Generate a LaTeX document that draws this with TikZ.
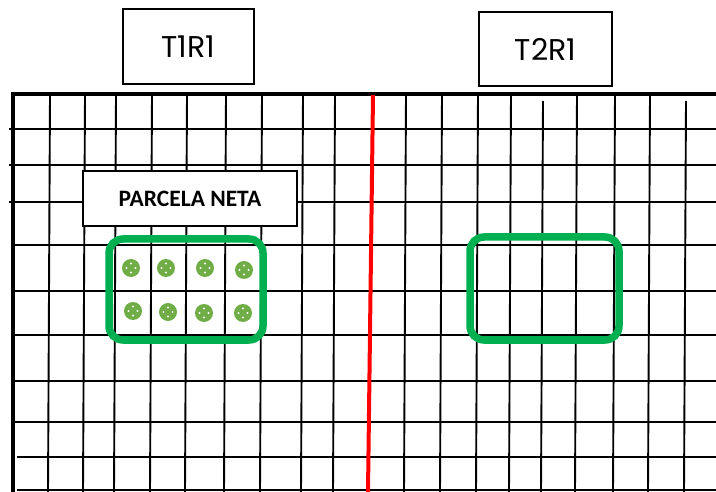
\documentclass[tikz,border=0pt]{standalone}
\usepackage{fontspec}
\newfontfamily\labfont{Poppins}
\newfontfamily\boldfont{Carlito}
\definecolor{plotgreen}{HTML}{00B050}
\definecolor{plantgreen}{HTML}{70AD47}
\definecolor{divred}{HTML}{FF0000}
\begin{document}
\begin{tikzpicture}[x=1pt,y=-1pt,
  gridline/.style={line width=1.9pt,black},
  border/.style={line width=4pt,black},
  treatbox/.style={draw,line width=1.3pt,fill=white,inner sep=0pt,font=\labfont\fontsize{30}{30}\selectfont},
  netbox/.style={draw,line width=1.3pt,fill=white,inner sep=0pt,font=\boldfont\bfseries\fontsize{23.5}{24}\selectfont},
  plotbox/.style={draw=plotgreen,line width=7.5pt,rounded corners=14pt,inner sep=0pt},
  plant/.style={circle,fill=plantgreen,minimum size=18pt,inner sep=0pt,
    path picture={\fill[white] (path picture bounding box.center) ++(0,-4.5) circle (1.1pt)
                  (path picture bounding box.center) ++(0,4.5) circle (1.1pt)
                  (path picture bounding box.center) ++(-4.5,0) circle (1.1pt)
                  (path picture bounding box.center) ++(4.5,0) circle (1.1pt);}}]
\useasboundingbox (0,0) rectangle (716,492);
\fill[white] (0,0) rectangle (716,492);
% horizontal grid lines
\foreach \y in {129,165,202} \draw[gridline] (9,\y) -- (716,\y);
\foreach \y in {245,291,335,381,422} \draw[gridline] (13,\y) -- (716,\y);
\foreach \y in {457,490} \draw[gridline] (17,\y) -- (716,\y);
% vertical grid lines
\foreach \x in {50,85,116,152,187,226,262,303,335,406,442,478,511,577,615,650}
  \draw[gridline] (\x,95) -- (\x-2,492);
\foreach \x in {543,686} \draw[gridline] (\x,101) -- (\x-2,492);
% borders
\draw[border] (11,94) -- (716,94);
\draw[border] (13,92) -- (13,492);
% red divider
\coordinate (rtop) at (373,95);
\coordinate (rbot) at (368,492);
\draw[divred,line width=4pt] (rtop) -- (rbot);
% treatment labels
\node[treatbox,minimum width=131pt,minimum height=75pt] (t1) at (188.5,46.5) {T1R1};
\node[treatbox,minimum width=133pt,minimum height=74pt] (t2) at (545.5,49) {T2R1};
\node[netbox,minimum width=214pt,minimum height=55pt] (net) at (190,198.5) {PARCELA NETA};
% net plots
\node[plotbox,minimum width=154pt,minimum height=101pt] (p1) at (186,289.5) {};
\node[plotbox,minimum width=149pt,minimum height=103pt] (p2) at (544.5,288.5) {};
% plants
\node[plant] (d1) at (131,268) {};
\node[plant] (d2) at (166,268) {};
\node[plant] (d3) at (205,268) {};
\node[plant] (d4) at (244,270) {};
\node[plant] (d5) at (133,311) {};
\node[plant] (d6) at (168,312) {};
\node[plant] (d7) at (204,313) {};
\node[plant] (d8) at (243,313) {};
\end{tikzpicture}
\end{document}
